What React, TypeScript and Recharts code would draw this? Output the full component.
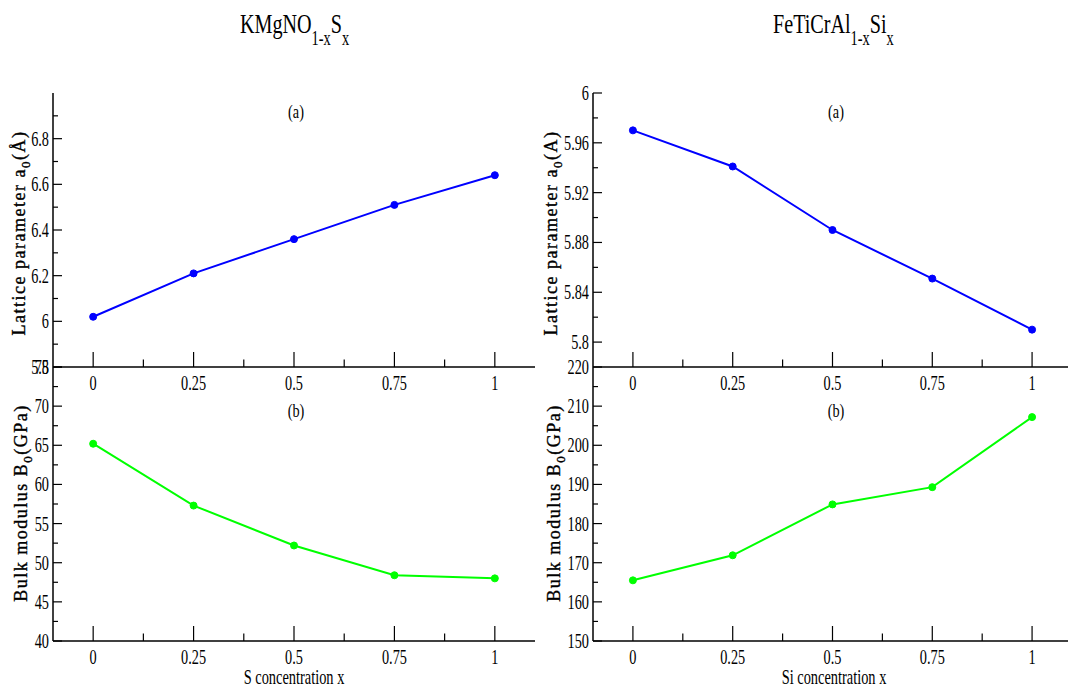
import React from 'react';
import { LineChart, Line, XAxis, YAxis } from 'recharts';

const concentrations = [0, 0.25, 0.5, 0.75, 1];
const kmgLattice = [6.02, 6.21, 6.36, 6.51, 6.64];
const kmgBulk = [65.2, 57.3, 52.2, 48.4, 48.0];
const feLattice = [5.97, 5.941, 5.89, 5.851, 5.81];
const feBulk = [165.5, 171.9, 184.9, 189.3, 207.2];

const xMajorTicks = [0, 0.25, 0.5, 0.75, 1];
const xMinorTicks = [0.125, 0.375, 0.625, 0.875];
const kmgLatticeMajor = [5.8, 6, 6.2, 6.4, 6.6, 6.8];
const kmgLatticeMinor = [5.9, 6.1, 6.3, 6.5, 6.7, 6.9];
const kmgBulkMajor = [40, 45, 50, 55, 60, 65, 70, 75];
const kmgBulkMinor = [42.5, 47.5, 52.5, 57.5, 62.5, 67.5, 72.5];
const feLatticeMajor = [5.8, 5.84, 5.88, 5.92, 5.96, 6];
const feLatticeMinor = [5.82, 5.86, 5.9, 5.94, 5.98];
const feBulkMajor = [150, 160, 170, 180, 190, 200, 210, 220];
const feBulkMinor = [155, 165, 175, 185, 195, 205, 215];

const FONT = "'Liberation Serif', 'DejaVu Serif', serif";
const W = 1068;
const H = 689;

const isIn = (arr: number[], v: number) => arr.some((m) => Math.abs(m - v) < 1e-9);

function makeYTick(majors: number[]) {
  return (props: any) => {
    const { x, y, payload } = props;
    const v = payload.value;
    const major = isIn(majors, v);
    return (
      <g>
        <line x1={x} y1={y} x2={x + (major ? 9 : 5)} y2={y} stroke="#000" strokeWidth={1.2} />
        {major && (
          <text
            transform={`translate(${x - 4},${y + 7}) scale(0.68,1)`}
            textAnchor="end"
            fontSize={21}
            fontFamily={FONT}
            fill="#000"
          >
            {String(v)}
          </text>
        )}
      </g>
    );
  };
}

const XTick = (props: any) => {
  const { x, y, payload } = props;
  const v = payload.value;
  const major = isIn(xMajorTicks, v);
  return (
    <g>
      <line x1={x} y1={y} x2={x} y2={y - (major ? 15 : 7.5)} stroke="#000" strokeWidth={1.2} />
      {major && (
        <text
          transform={`translate(${x},${y + 23}) scale(0.68,1)`}
          textAnchor="middle"
          fontSize={21}
          fontFamily={FONT}
          fill="#000"
        >
          {String(v)}
        </text>
      )}
    </g>
  );
};

type PanelProps = {
  values: number[];
  color: string;
  xDomain: [number, number];
  yDomain: [number, number];
  yMajor: number[];
  yMinor: number[];
  margin: { top: number; left: number; right: number; bottom: number };
  xAxisHeight: number;
  rightBorder: boolean;
};

function Panel(p: PanelProps) {
  const data = concentrations.map((x, i) => ({ x, v: p.values[i] }));
  const axisLine = { stroke: '#000', strokeWidth: 1.5 };
  return (
    <div style={{ position: 'absolute', left: 0, top: 0 }}>
      <LineChart width={W} height={H} data={data} margin={p.margin}>
        <XAxis
          type="number"
          dataKey="x"
          domain={p.xDomain}
          allowDataOverflow
          ticks={[...xMajorTicks, ...xMinorTicks]}
          interval={0}
          tickSize={0}
          tickMargin={0}
          tickLine={false}
          tick={XTick}
          axisLine={axisLine}
          height={p.xAxisHeight}
        />
        <XAxis
          xAxisId="top"
          orientation="top"
          type="number"
          dataKey="x"
          domain={p.xDomain}
          allowDataOverflow
          tick={false}
          tickLine={false}
          axisLine={axisLine}
          height={0}
        />
        <YAxis
          type="number"
          domain={p.yDomain}
          allowDataOverflow
          ticks={[...p.yMajor, ...p.yMinor]}
          interval={0}
          tickSize={0}
          tickMargin={0}
          tickLine={false}
          tick={makeYTick(p.yMajor)}
          axisLine={axisLine}
          width={53}
        />
        {p.rightBorder && (
          <YAxis
            yAxisId="r"
            orientation="right"
            type="number"
            domain={p.yDomain}
            allowDataOverflow
            tick={false}
            tickLine={false}
            axisLine={axisLine}
            width={0}
          />
        )}
        <Line
          dataKey="v"
          stroke={p.color}
          strokeWidth={2}
          dot={{ r: 3.5, fill: p.color, stroke: p.color, strokeWidth: 1 }}
          isAnimationActive={false}
        />
      </LineChart>
    </div>
  );
}

const yLabelStyle = {
  fontSize: 18,
  letterSpacing: 1.5,
  stroke: '#000',
  strokeWidth: 0.35,
};

function Overlay() {
  return (
    <svg width={W} height={H} style={{ position: 'absolute', left: 0, top: 0, pointerEvents: 'none' }}>
      <g fontFamily={FONT} fill="#000">
        <text transform="translate(240,33) scale(0.72,1)" fontSize={28}>
          KMgNO<tspan fontSize={20} dy={12}>1-x</tspan>
          <tspan dy={-12}>S</tspan>
          <tspan fontSize={20} dy={12}>x</tspan>
        </text>
        <text transform="translate(773,33) scale(0.72,1)" fontSize={28}>
          FeTiCrAl<tspan fontSize={20} dy={12}>1-x</tspan>
          <tspan dy={-12}>Si</tspan>
          <tspan fontSize={20} dy={12}>x</tspan>
        </text>

        <text transform="translate(25,233) rotate(-90)" textAnchor="middle" {...yLabelStyle}>
          Lattice parameter a<tspan fontSize={13} dy={5}>0</tspan>
          <tspan dy={-5}>(Å)</tspan>
        </text>
        <text transform="translate(27,503) rotate(-90)" textAnchor="middle" {...yLabelStyle}>
          Bulk modulus B<tspan fontSize={13} dy={5}>0</tspan>
          <tspan dy={-5}>(GPa)</tspan>
        </text>
        <text transform="translate(557,233) rotate(-90)" textAnchor="middle" {...yLabelStyle}>
          Lattice parameter a<tspan fontSize={13} dy={5}>0</tspan>
          <tspan dy={-5}>(A)</tspan>
        </text>
        <text transform="translate(560,503) rotate(-90)" textAnchor="middle" {...yLabelStyle}>
          Bulk modulus B<tspan fontSize={13} dy={5}>0</tspan>
          <tspan dy={-5}>(GPa)</tspan>
        </text>

        <text transform="translate(296,118) scale(0.75,1)" textAnchor="middle" fontSize={19}>(a)</text>
        <text transform="translate(296,417) scale(0.75,1)" textAnchor="middle" fontSize={19}>(b)</text>
        <text transform="translate(836,118) scale(0.75,1)" textAnchor="middle" fontSize={19}>(a)</text>
        <text transform="translate(836,417) scale(0.75,1)" textAnchor="middle" fontSize={19}>(b)</text>

        <text transform="translate(294,684) scale(0.72,1)" textAnchor="middle" fontSize={20}>S concentration x</text>
        <text transform="translate(834,684) scale(0.72,1)" textAnchor="middle" fontSize={20}>Si concentration x</text>
      </g>
    </svg>
  );
}

export default function App() {
  return (
    <div style={{ position: 'absolute', left: 0, top: 0, width: W, height: H, background: '#fff', overflow: 'hidden' }}>
      <Panel
        values={kmgLattice}
        color="#0000ff"
        xDomain={[-0.1, 1.1]}
        yDomain={[5.8, 7.0]}
        yMajor={kmgLatticeMajor}
        yMinor={kmgLatticeMinor}
        margin={{ top: 93, left: 0, right: W - 535, bottom: H - 367 - 20 }}
        xAxisHeight={20}
        rightBorder
      />
      <Panel
        values={kmgBulk}
        color="#00ff00"
        xDomain={[-0.1, 1.1]}
        yDomain={[40, 75]}
        yMajor={kmgBulkMajor}
        yMinor={kmgBulkMinor}
        margin={{ top: 367, left: 0, right: W - 535, bottom: 0 }}
        xAxisHeight={H - 641}
        rightBorder
      />
      <Panel
        values={feLattice}
        color="#0000ff"
        xDomain={[-0.1, 1.09]}
        yDomain={[5.78, 6.0]}
        yMajor={feLatticeMajor}
        yMinor={feLatticeMinor}
        margin={{ top: 93, left: 540, right: 0, bottom: H - 367 - 20 }}
        xAxisHeight={20}
        rightBorder={false}
      />
      <Panel
        values={feBulk}
        color="#00ff00"
        xDomain={[-0.1, 1.09]}
        yDomain={[150, 220]}
        yMajor={feBulkMajor}
        yMinor={feBulkMinor}
        margin={{ top: 367, left: 540, right: 0, bottom: 0 }}
        xAxisHeight={H - 641}
        rightBorder={false}
      />
      <Overlay />
    </div>
  );
}
